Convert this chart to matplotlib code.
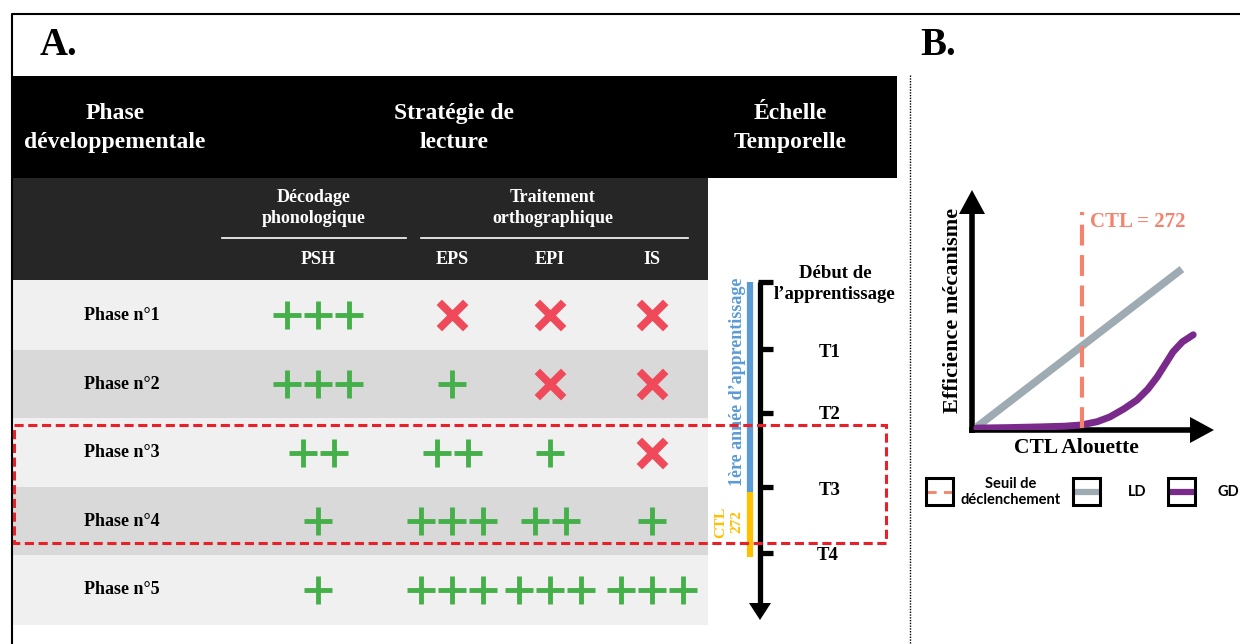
import matplotlib.pyplot as plt
from matplotlib.patches import Rectangle, Polygon

# --- donnees du tableau (A) ---
phases = ["Phase n°1", "Phase n°2", "Phase n°3", "Phase n°4", "Phase n°5"]
columns = ["PSH", "EPS", "EPI", "IS"]
# nombre de "+" ; 0 = croix rouge
scores = [[3, 0, 0, 0],
          [3, 1, 0, 0],
          [2, 2, 1, 0],
          [1, 3, 2, 1],
          [1, 3, 3, 3]]
time_labels = ["Début de\nl’apprentissage", "T1", "T2", "T3", "T4"]

# --- donnees du graphe (B) ---
ctl_threshold = 272
ld_ctl = [12, 519]
ld_eff = [0.013, 0.676]
gd_ctl = [12, 90, 168, 230, 270, 310, 341, 375, 408, 435, 458, 480, 497, 520, 547]
gd_eff = [0.008, 0.010, 0.013, 0.016, 0.021, 0.035, 0.055, 0.088, 0.126, 0.172, 0.223, 0.282, 0.328, 0.370, 0.400]

SERIF = ["Liberation Serif", "DejaVu Serif"]
GREEN = "#45b04a"
RED = "#f04a5a"
BLUE = "#5b9bd5"
ORANGE = "#ffc000"
SALMON = "#f4826c"
GREY = "#9eabb3"
PURPLE = "#7a2a8a"

fig = plt.figure(figsize=(12.4, 6.44), dpi=100)
ax = fig.add_axes([0, 0, 1, 1])
ax.set_xlim(0, 1240)
ax.set_ylim(644, 0)
ax.axis("off")

# cadre exterieur
ax.plot([12, 12, 1240], [644, 14, 14], color="black", lw=1.5)

ax.text(40, 45, "A.", family=SERIF, weight="bold", fontsize=28, va="center")
ax.text(920, 45, "B.", family=SERIF, weight="bold", fontsize=28, va="center")

# en-tete noir
ax.add_patch(Rectangle((12, 76), 885, 102, color="black", lw=0))
hdr = dict(family=SERIF, weight="bold", fontsize=17, color="white",
           ha="center", va="center", linespacing=1.45)
ax.text(115, 128, "Phase\ndéveloppementale", **hdr)
ax.text(454, 128, "Stratégie de\nlecture", **hdr)
ax.text(790, 128, "Échelle\nTemporelle", **hdr)

# sous-en-tete gris fonce
ax.add_patch(Rectangle((12, 178), 696, 102, color="#262626", lw=0))
sub = dict(family=SERIF, weight="bold", fontsize=13, color="white",
           ha="center", va="center", linespacing=1.25)
ax.text(314, 208, "Décodage\nphonologique", **sub)
ax.text(553, 208, "Traitement\northographique", **sub)
ax.plot([222, 406], [238, 238], color="white", lw=1.2)
ax.plot([421, 688], [238, 238], color="white", lw=1.2)
col_x = [318, 452, 550, 652]
for cx, name in zip(col_x, columns):
    ax.text(cx, 259, name, **sub)

# lignes du tableau
row_top = [280, 350, 418, 487, 555]
row_h = [70, 68, 69, 68, 70]
row_col = ["#f0f0f0", "#d9d9d9", "#f0f0f0", "#d9d9d9", "#f0f0f0"]
spacing = 31
for i, ph in enumerate(phases):
    yc = row_top[i] + row_h[i] / 2
    ax.add_patch(Rectangle((13, row_top[i]), 695, row_h[i], color=row_col[i], lw=0))
    ax.text(122, yc, ph, family=SERIF, weight="bold", fontsize=13,
            ha="center", va="center")
    for j, n in enumerate(scores[i]):
        if n == 0:
            ax.scatter([col_x[j]], [yc], marker="x", s=360, lw=5.5,
                       color=RED, zorder=3)
        else:
            xs = [col_x[j] + (k - (n - 1) / 2) * spacing for k in range(n)]
            ax.scatter(xs, [yc] * n, marker="+", s=380, lw=3.5,
                       color=GREEN, zorder=3)

# echelle temporelle
tl_x = 760
tick_y = [282, 349, 413, 487, 553]
ax.plot([tl_x, tl_x], [282, 606], color="black", lw=3.8, solid_capstyle="butt")
ax.add_patch(Polygon([[tl_x - 11, 603], [tl_x + 11, 603], [tl_x, 620]],
                     color="black", lw=0))
for ty in tick_y:
    ax.plot([tl_x - 2, tl_x + 13], [ty, ty], color="black", lw=3.8,
            solid_capstyle="butt")
ax.plot([750, 750], [282, 492], color=BLUE, lw=4.5, solid_capstyle="butt")
ax.plot([750, 750], [492, 557], color=ORANGE, lw=4.5, solid_capstyle="butt")
ax.text(737, 382, "1ère année d’apprentissage", family=SERIF, weight="bold",
        fontsize=13, color=BLUE, rotation=90, ha="center", va="center")
ax.text(729, 522, "CTL\n272", family=SERIF, weight="bold", fontsize=11,
        color=ORANGE, rotation=90, ha="center", va="center", linespacing=1.3)
lab_x = [835, 830, 830, 830, 828]
lab_y = [284, 352, 414, 490, 556]
for lx, ly, lab in zip(lab_x, lab_y, time_labels):
    ax.text(lx, ly, lab, family=SERIF, weight="bold", fontsize=13.5,
            ha="center", va="center", linespacing=1.3)

# cadre rouge pointille (phases 3-4)
ax.add_patch(Rectangle((14, 425), 872, 118, fill=False, edgecolor="#e8202a",
                       lw=2.2, ls=(0, (3, 1.5)), zorder=5))

# separateur vertical
ax.plot([910, 910], [75, 644], color="black", lw=1.0, ls=(0, (1, 1)))

# --- panel B ---
ox, oy, xend, ytop = 972, 430, 1214, 190
ax.plot([ox, ox], [oy + 3, ytop + 20], color="black", lw=4, solid_capstyle="butt")
ax.plot([ox - 3, xend - 20], [oy, oy], color="black", lw=4, solid_capstyle="butt")
ax.add_patch(Polygon([[ox - 13, ytop + 24], [ox + 13, ytop + 24], [ox, ytop]],
                     color="black", lw=0))
ax.add_patch(Polygon([[xend - 24, oy - 13], [xend - 24, oy + 13], [xend, oy]],
                     color="black", lw=0))
ax.text(953, 310, "Efficience mécanisme", family=SERIF, weight="bold",
        fontsize=16, rotation=90, ha="center", va="center")
ax.text(1076, 448, "CTL Alouette", family=SERIF, weight="bold",
        fontsize=15.5, ha="center", va="center")

bx = fig.add_axes([ox / 1240, 1 - oy / 644, (1212 - ox) / 1240, (oy - 192) / 644])
bx.set_xlim(0, (1212 - ox) * ctl_threshold / (1082 - ox))
bx.set_ylim(0, 1)
bx.axis("off")
bx.plot(ld_ctl, ld_eff, color=GREY, lw=5.5, solid_capstyle="butt")
bx.plot(gd_ctl, gd_eff, color=PURPLE, lw=5, solid_capstyle="round",
        solid_joinstyle="round")
bx.plot([ctl_threshold, ctl_threshold], [0.01, 0.915], color=SALMON, lw=3,
        ls=(0, (5, 2.3)))
bx.text(ctl_threshold + 20, 0.875, "CTL = 272", family=SERIF, weight="bold",
        fontsize=15, color=SALMON, ha="left", va="center")

# legende
leg = dict(family=["Lato", "DejaVu Sans"], weight="bold", fontsize=10.5,
           ha="center", va="center")
for x0, kind in [(926, "seuil"), (1073, "ld"), (1168, "gd")]:
    ax.add_patch(Rectangle((x0, 478), 27, 27, fill=False, edgecolor="black",
                           lw=2.2, zorder=4))
    if kind == "seuil":
        ax.plot([x0 + 1, x0 + 26], [491.5, 491.5], color=SALMON, lw=2,
                ls=(0, (3.3, 2.6)), dash_capstyle="butt")
    elif kind == "ld":
        ax.plot([x0 + 1, x0 + 26], [491.5, 491.5], color=GREY, lw=4.5,
                solid_capstyle="butt")
    else:
        ax.plot([x0 + 1, x0 + 26], [491.5, 491.5], color=PURPLE, lw=4.5,
                solid_capstyle="butt")
ax.text(1011, 492, "Seuil de\ndéclenchement", linespacing=1.25, **leg)
ax.text(1137, 492, "LD", **leg)
ax.text(1218, 492, "GD", family=["Lato", "DejaVu Sans"], weight="bold",
        fontsize=10.5, ha="left", va="center")

fig.savefig("out.png", dpi=100)
